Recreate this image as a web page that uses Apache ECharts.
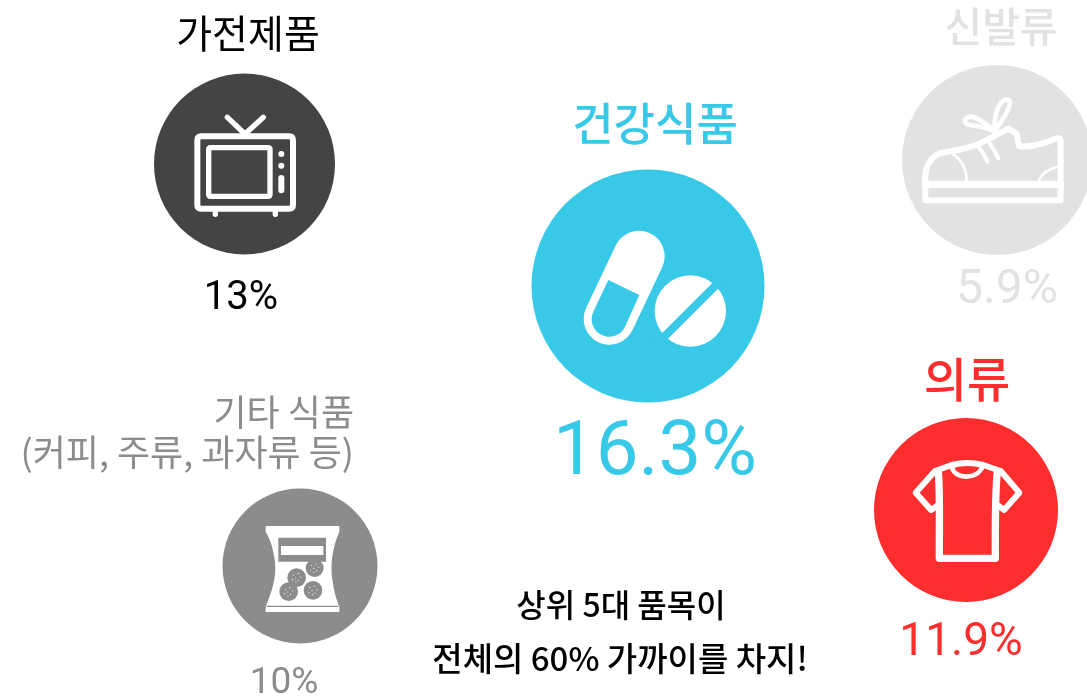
<!DOCTYPE html>
<html><head><meta charset="utf-8">
<style>html,body{margin:0;padding:0;background:#fff;overflow:hidden}#c{width:1087px;height:700px}</style>
<script src="https://cdn.jsdelivr.net/npm/echarts@6/dist/echarts.min.js"></script>
</head><body><div id="c"></div>
<script>
// values
const categories = ['가전제품', '건강식품', '신발류', '의류', '기타 식품\n(커피, 주류, 과자류 등)'];
const shares = [13, 16.3, 5.9, 11.9, 10];
const noteLines = ['상위 5대 품목이', '전체의 60% 가까이를 차지!'];
// layout
const circleX = [244.5, 648, 997, 966, 300];
const circleY = [164, 286, 160, 510, 566];
const circleD = [181, 233, 190, 184, 155];
const colors = ['#444444', '#38c9e8', '#e2e2e2', '#ff2d2d', '#8c8c8c'];
const nameX = [248, 655, 1001, 967, 354];
const nameY = [33, 124, 26, 379, 432];
const nameSize = [39, 45, 41, 47, 36];
const nameWeight = [400, 500, 500, 500, 400];
const nameAlign = ['center', 'center', 'center', 'center', 'right'];
const nameColor = ['#000000', '#38c9e8', '#e2e2e2', '#ff2d2d', '#8c8c8c'];
const valueX = [241, 655, 1007, 961, 284];
const valueY = [299, 455, 291, 643, 684];
const valueSize = [40, 76, 48, 46, 37];
const valueColor = ['#000000', '#38c9e8', '#e2e2e2', '#ff2d2d', '#8c8c8c'];
const noteX = [621, 620];
const noteY = [605, 658];
const noteSize = [32, 33];

const W = '#ffffff';
const s = (d, w, extra) => Object.assign({ d, stroke: W, w }, extra);
const f = (d, fill) => ({ d, fill: fill || W });
const circ = (x, y, r) => `M${x - r} ${y}A${r} ${r} 0 1 1 ${x + r} ${y}A${r} ${r} 0 1 1 ${x - r} ${y}Z`;
const cookieDots = (x, y) => [[-10,-8],[4,-12],[12,-2],[-3,1],[-12,6],[6,8],[-2,13]].map(p => circ(x + p[0], y + p[1], 1.8)).join('');
const BG = 'BG';

// icon drawings, in a 3x local space centred on the point given in o
const icons = [
  { o: [283.5, 312], parts: [
    s('M154 229H417Q429 229 429 241V434Q429 446 417 446H154Q142 446 142 434V241Q142 229 154 229Z', 18),
    s('M182 263H354Q360 263 360 269V403Q360 409 354 409H182Q176 409 176 403V269Q176 263 182 263Z', 16),
    s('M232 172L285 222L340 172', 16),
    s('M196 455V463', 16), s('M376 455V463', 16),
    f(circ(394, 282, 9)), f(circ(394, 317, 9)),
    s('M394 354V391', 18)
  ]},
  { o: [369, 363], parts: [
    s('M342 274L253 462', 154),
    f('M250 345L343 390L300 485A52 52 0 0 1 205 440Z', BG),
    f(circ(496, 438, 107)),
    { d: 'M400 533L590 343', stroke: BG, w: 24, cap: 'butt' }
  ]},
  { o: [306, 300], parts: [
    s('M91 421V350C91 310 115 282 150 277C200 270 240 260 280 238L340 205L365 222L372 258C410 265 450 250 485 235Q497 232 497 245V421Z', 18),
    s('M91 373H497', 22),
    s('M175 283C200 300 215 330 215 365', 8),
    s('M430 365C440 340 465 325 490 320', 8),
    s('M250 262C262 275 272 290 277 305', 12),
    s('M285 250C295 265 303 280 310 295', 12),
    s('M300 212C270 190 245 170 225 170C205 172 205 195 225 195C250 198 280 205 300 215', 14),
    s('M300 212C295 170 310 120 335 118C355 118 345 150 300 212', 14)
  ]},
  { o: [288, 285], parts: [
    s('M205 270L183 285L137 233L195 168L245 150C275 142 310 142 340 150L392 168L448 233L402 285L383 270', 18),
    s('M205 170C210 230 208 300 208 430H376C376 300 375 230 382 170', 22),
    s('M245 155C255 195 320 195 338 155', 14)
  ]},
  { o: [240, 243], parts: [
    f('M137 123H358V140C335 190 330 250 338 290C342 320 350 345 358 365V381H137V365C155 320 170 280 165 230C160 190 150 160 137 140Z'),
    f('M175 158H318V230H175Z', BG),
    f('M183 183H310V210H183Z'),
    f(circ(284, 249, 27), BG), f(circ(230, 278, 28), BG), f(circ(206, 320, 28), BG), f(circ(279, 316, 28), BG),
    f(cookieDots(284, 249)), f(cookieDots(230, 278)), f(cookieDots(206, 320)), f(cookieDots(279, 316)),
    { d: 'M140 364H355', stroke: BG, w: 4, cap: 'butt' }
  ]}
];

const FONT = 'Roboto, "Noto Sans CJK KR", sans-serif';
const KR = '"Noto Sans CJK KR", sans-serif';

const textItem = (text, x, y, size, color, align, family, weight) => ({
  value: [x, y], text, size, color, align: align || 'center', family: family || FONT, weight: weight || 400
});
const nameData = categories.map((c, i) => textItem(c, nameX[i], nameY[i], nameSize[i], nameColor[i], nameAlign[i], KR, nameWeight[i]));
const valueData = shares.map((v, i) => textItem(v + '%', valueX[i], valueY[i], valueSize[i], valueColor[i]));
const noteData = noteLines.map((t, i) => textItem(t, noteX[i], noteY[i], noteSize[i], '#000000', 'center', KR, 500));

const textSeries = (name, data) => ({
  name, type: 'custom', coordinateSystem: 'cartesian2d', silent: true, clip: false, z: 5,
  encode: { x: 0, y: 1 },
  data,
  renderItem(params, api) {
    const it = data[params.dataIndex];
    const p = api.coord([api.value(0), api.value(1)]);
    const n = it.text.split('\n').length;
    return { type: 'text', x: p[0], y: p[1], style: {
      text: it.text, fill: it.color, fontSize: it.size, fontFamily: it.family, fontWeight: it.weight,
      align: it.align, verticalAlign: 'middle', lineHeight: n > 1 ? 40 : undefined
    }};
  }
});

const option = {
  animation: false,
  backgroundColor: '#ffffff',
  grid: { left: 0, right: 0, top: 0, bottom: 0 },
  xAxis: { type: 'value', min: 0, max: 1087, show: false },
  yAxis: { type: 'value', min: 0, max: 700, inverse: true, show: false },
  series: [
    { name: 'circles', type: 'scatter', silent: true, z: 2, symbol: 'circle',
      data: categories.map((c, i) => ({ name: c, value: [circleX[i], circleY[i]], symbolSize: circleD[i], itemStyle: { color: colors[i], opacity: 1 } })) },
    { name: 'icons', type: 'custom', coordinateSystem: 'cartesian2d', silent: true, clip: false, z: 3,
      encode: { x: 0, y: 1 },
      data: categories.map((c, i) => [circleX[i], circleY[i]]),
      renderItem(params, api) {
        const i = params.dataIndex, ic = icons[i];
        const p = api.coord([api.value(0), api.value(1)]);
        return { type: 'group', x: p[0], y: p[1], scaleX: 1 / 3, scaleY: 1 / 3,
          children: ic.parts.map(part => ({
            type: 'path', x: -ic.o[0], y: -ic.o[1],
            shape: { pathData: part.d },
            style: {
              fill: part.fill ? (part.fill === BG ? colors[i] : part.fill) : 'none',
              stroke: part.stroke ? (part.stroke === BG ? colors[i] : part.stroke) : 'none',
              lineWidth: part.w || 0, lineCap: part.cap || 'round', lineJoin: 'round'
            }
          })) };
      } },
    textSeries('names', nameData),
    textSeries('values', valueData),
    textSeries('note', noteData)
  ]
};
echarts.init(document.getElementById('c'), null, { renderer: 'canvas' }).setOption(option);
</script></body></html>
